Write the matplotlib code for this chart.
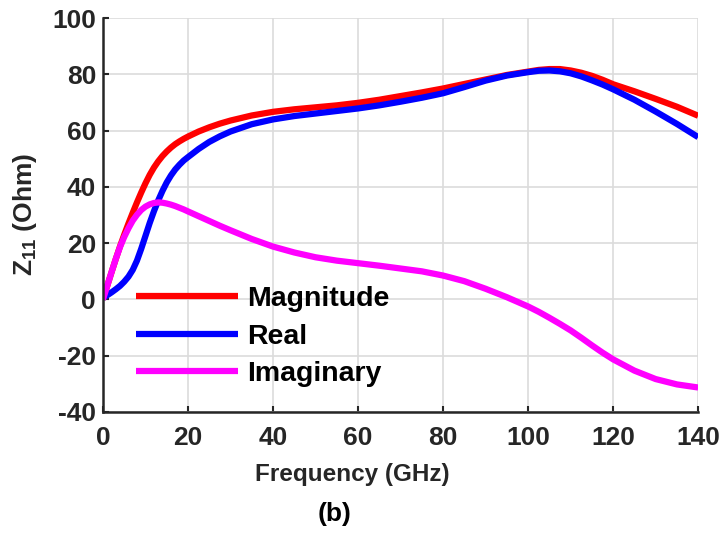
import matplotlib
matplotlib.use("Agg")
import matplotlib.pyplot as plt

plt.rcParams["font.family"] = ["Liberation Sans", "DejaVu Sans"]
plt.rcParams["font.weight"] = "bold"
plt.rcParams["axes.unicode_minus"] = False
plt.rcParams["mathtext.fontset"] = "custom"
plt.rcParams["mathtext.rm"] = "Liberation Sans:bold"
plt.rcParams["mathtext.it"] = "Liberation Sans:bold"
plt.rcParams["mathtext.bf"] = "Liberation Sans:bold"

# frequency points (GHz)
freq = [0, 1, 2, 3, 4, 5, 6, 7, 8, 9, 10, 11, 12, 13, 14, 15, 16, 17, 18, 19, 20,
        22.5, 25, 27.5, 30, 35, 40, 45, 50, 55, 60, 65, 70, 75, 80, 85, 90, 95,
        100, 102.5, 105, 107.5, 110, 112.5, 115, 117.5, 120, 125, 130, 135, 140]
# Z11 (Ohm)
mag = [0, 4.8, 9.6, 14.3, 18.8, 23, 27, 30.8, 34.5, 38, 41.3, 44.3, 46.9, 49.1, 51, 52.6, 54, 55.2, 56.2, 57.1, 57.9,
       59.7, 61.2, 62.5, 63.6, 65.4, 66.7, 67.6, 68.3, 69, 69.9, 71, 72.3, 73.6, 75, 76.6, 78.2, 79.8,
       81, 81.6, 81.9, 81.9, 81.4, 80.6, 79.5, 78.1, 76.5, 74, 71.3, 68.5, 65.3]
real = [0.5, 1.5, 2.5, 3.6, 4.8, 6.3, 8.1, 10.5, 13.8, 18, 22.6, 27.2, 31.4, 35.2, 38.6, 41.6, 44.1, 46.2, 47.9, 49.4, 50.6,
        53.5, 56, 58, 59.7, 62.3, 64, 65.2, 66.1, 67, 67.9, 69, 70.3, 71.7, 73.3, 75.5, 77.8, 79.6,
        80.8, 81.3, 81.4, 81.1, 80.4, 79.3, 77.9, 76.4, 74.7, 71, 66.8, 62.4, 57.7]
imag = [0, 4.8, 9.6, 14.3, 18.6, 22.2, 25.3, 28, 30.1, 31.8, 33, 33.8, 34.3, 34.5, 34.4, 34.1, 33.7, 33.2, 32.6, 32, 31.3,
        29.6, 27.9, 26.2, 24.6, 21.5, 18.8, 16.7, 15, 13.8, 12.9, 12, 11, 10, 8.5, 6.5, 3.8, 0.8,
        -2.5, -4.4, -6.5, -8.7, -11, -13.6, -16.3, -18.9, -21.3, -25.3, -28.3, -30.2, -31.3]

fig = plt.figure(figsize=(7.25, 5.34), dpi=100)
ax = fig.add_axes([0.142, 0.2285, 0.821, 0.7375])

lw = 4.5
ax.plot(freq, mag, color="#ff0000", lw=lw, label="Magnitude", solid_capstyle="butt", solid_joinstyle="round")
ax.plot(freq, real, color="#0000ff", lw=lw, label="Real", solid_capstyle="butt", solid_joinstyle="round")
ax.plot(freq, imag, color="#ff00ff", lw=lw, label="Imaginary", solid_capstyle="butt", solid_joinstyle="round")

ax.set_xlim(0, 140); ax.set_ylim(-40, 100)
ax.set_xticks(range(0, 141, 20)); ax.set_yticks(range(-40, 101, 20))
ax.grid(color="#dcdcdc", lw=1.2)
ax.set_axisbelow(True)
for s in ("top", "right"):
    ax.spines[s].set_visible(False)
for s in ("left", "bottom"):
    ax.spines[s].set_linewidth(1.8); ax.spines[s].set_color("#262626")
ax.tick_params(direction="in", length=4.5, width=1.5, color="#262626", labelcolor="#262626", labelsize=19)
ax.tick_params(axis="x", pad=10)
ax.tick_params(axis="y", pad=5)

fig.text(25/725, 1 - 214/534, r"Z$_{11}$ (Ohm)", rotation=90, ha="center", va="center",
         fontsize=19, fontweight="bold", color="#262626")
fig.text(352/725, 1 - 474/534, "Frequency (GHz)", ha="center", va="center", fontsize=17.5, color="#262626")
fig.text(335/725, 1 - 514/534, "(b)", ha="center", va="center", fontsize=19, color="#000000")

ax.legend(loc="upper left", bbox_to_anchor=(0.055, 0.319), frameon=False, fontsize=20.5,
          handlelength=3.58, handletextpad=0.32, labelspacing=0.4, borderpad=0, borderaxespad=0)

fig.savefig("out.png", dpi=100)
